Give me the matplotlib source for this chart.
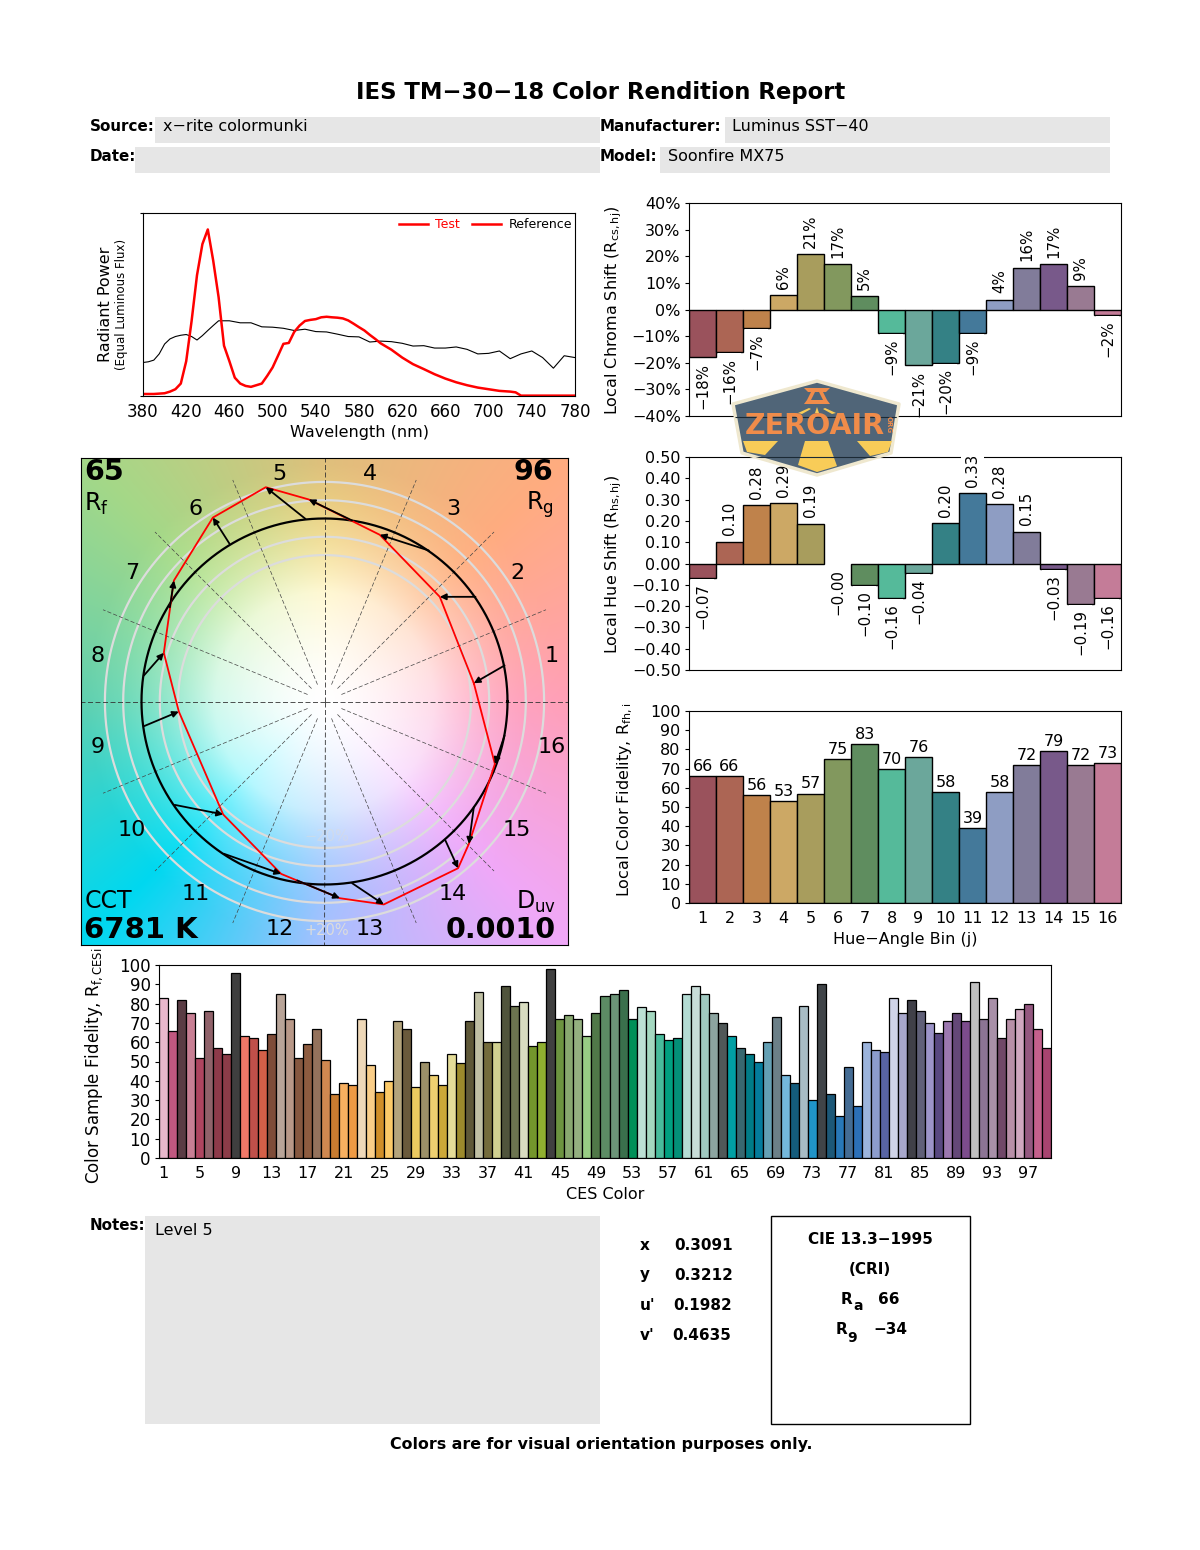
import numpy as np
import matplotlib
matplotlib.use("Agg")
import matplotlib.pyplot as plt
from matplotlib.lines import Line2D
from matplotlib.patches import Polygon, Rectangle

W, H = 1200, 1550

# spectrum
wl_test = [380, 390, 400, 405, 410, 415, 420, 425, 430, 435, 440, 445, 450, 455, 460, 465, 470, 475, 480, 485,
           490, 495, 500, 505, 510, 515, 520, 525, 530, 535, 540, 545, 550, 555, 560, 565, 570, 575, 580, 585,
           590, 595, 600, 610, 620, 630, 640, 650, 660, 670, 680, 690, 700, 710, 720, 725, 730, 780]
spd_test = [.011, .011, .015, .024, .037, .068, .19, .41, .66, .83, .91, .74, .54, .275, .19, .10, .068, .055, .05, .059,
            .068, .11, .156, .22, .285, .29, .35, .385, .41, .416, .42, .43, .433, .43, .428, .424, .413, .395, .376, .358,
            .334, .312, .288, .253, .21, .174, .147, .119, .095, .075, .059, .046, .037, .028, .024, .02, .002, .002]
wl_ref = [380, 385, 390, 395, 400, 405, 410, 415, 420, 425, 430, 435, 440, 445, 450, 460, 470, 480, 490, 500, 510, 520,
          530, 540, 550, 560, 570, 580, 590, 600, 610, 620, 630, 640, 650, 660, 670, 680, 690, 700, 710, 720, 730, 740,
          750, 760, 770, 780]
spd_ref = [.183, .187, .196, .23, .284, .312, .325, .332, .336, .325, .306, .33, .358, .385, .411, .411, .40, .40, .378,
           .376, .37, .358, .365, .352, .35, .338, .325, .323, .295, .30, .297, .288, .273, .275, .262, .262, .268, .255,
           .23, .233, .246, .204, .23, .246, .21, .152, .22, .21]
wl_ticks = list(range(380, 781, 40))

# hue bins
bins = list(range(1, 17))
bin_colors = ["#9A525C", "#AC6554", "#BF824B", "#CCA865", "#A89D5D", "#82985E", "#5F8D5F", "#55BA9A",
              "#6BA79B", "#348185", "#44799A", "#8E9DC3", "#817C9A", "#78598A", "#997A92", "#C47C98"]
chroma_shift = [-18, -16, -7, 5.5, 20.7, 17, 4.9, -8.7, -21, -20, -8.7, 3.7, 15.7, 17, 8.7, -1.9]
chroma_labels = ["\u221218%", "\u221216%", "\u22127%", "6%", "21%", "17%", "5%", "\u22129%",
                 "\u221221%", "\u221220%", "\u22129%", "4%", "16%", "17%", "9%", "\u22122%"]
hue_shift = [-.067, .103, .275, .285, .187, 0, -.10, -.16, -.043, .19, .33, .28, .15, -.025, -.19, -.16]
hue_labels = ["\u22120.07", "0.10", "0.28", "0.29", "0.19", "\u22120.00", "\u22120.10", "\u22120.16",
              "\u22120.04", "0.20", "0.33", "0.28", "0.15", "\u22120.03", "\u22120.19", "\u22120.16"]
fidelity = [66, 66, 56, 53, 57, 75, 83, 70, 76, 58, 39, 58, 72, 79, 72, 73]

# vector graphic, reference circle radius = 1
ref_x = [.984, .825, .570, .151, -.104, -.519, -.845, -.987, -.987, -.818, -.550, -.149, .151, .661, .816, .984]
ref_y = [.197, .572, .825, .989, .998, .862, .515, .142, -.135, -.565, -.832, -.978, -.993, -.760, -.577, -.186]
test_x = [.816, .630, .302, -.086, -.321, -.610, -.823, -.878, -.796, -.554, -.237, .084, .324, .730, .789, .931]
test_y = [.100, .572, .911, 1.104, 1.171, 1.005, .661, .266, -.055, -.617, -.942, -1.075, -1.109, -.911, -.778, -.341]
ring_radii = [0.8, 0.9, 1.1, 1.2]
hue_angles = [0, 45, 90, 135, 180, 225, 270, 315, 360]
hue_outer = ["#FFA0B8", "#FFAC80", "#DFC07C", "#A4D888", "#60D0B0", "#00D8F0", "#A8C0FF", "#F0A8F8", "#FFA0B8"]
hue_inner = ["#FFA8C8", "#FFC090", "#FFEE90", "#C8F0A0", "#90F0D0", "#40F0FF", "#90C8FF", "#F0B0FF", "#FFA8C8"]

# CES samples
ces_values = [83, 66, 82, 75, 52, 76, 57, 54, 96, 63, 62, 56, 64, 85, 72, 52, 59, 67, 51, 33,
              39, 38, 72, 48, 34, 40, 71, 67, 37, 50, 43, 38, 54, 49, 71, 86, 60, 60, 89, 79,
              81, 58, 60, 98, 72, 74, 72, 63, 75, 84, 85, 87, 72, 78, 76, 64, 61, 62, 85, 89,
              85, 75, 70, 63, 57, 54, 50, 60, 73, 43, 39, 79, 30, 90, 33, 22, 47, 27, 60, 56,
              55, 83, 75, 82, 76, 70, 65, 71, 75, 71, 91, 72, 83, 62, 72, 77, 80, 67, 57]
ces_colors = ["#E8B8CC", "#C05880", "#5A3C44", "#C87F94", "#AE4560", "#90626A", "#8E3A4A", "#8C3C48", "#3F3F3F", "#F07868",
              "#C0504A", "#D46048", "#7E4C38", "#B8A498", "#B89888", "#865840", "#8E5C40", "#94725C", "#D08850", "#C87C30",
              "#F8B060", "#EE9A44", "#EED8B8", "#FACE88", "#D08E28", "#FCCA68", "#B4A47C", "#6A5A3C", "#ECCA60", "#9C9068",
              "#EED070", "#CCA838", "#E4DC98", "#9C8A2C", "#5E5838", "#C0C0A4", "#746C3C", "#D0D090", "#50543C", "#6C7450",
              "#D8DCC0", "#74962C", "#90B030", "#404040", "#6C9440", "#88A870", "#94B080", "#98CC84", "#507848", "#5C8C64",
              "#6C9478", "#3A704C", "#009058", "#BCE0D4", "#A4D8C0", "#48BC9C", "#00A080", "#049078", "#B4DCD4", "#C8DCD8",
              "#A0C8C0", "#8CA4A0", "#505858", "#00A0A4", "#386870", "#007C88", "#047C9C", "#64A0B4", "#6C8088", "#74B8DC",
              "#145C7C", "#A8BCC4", "#2094C8", "#404448", "#1C5878", "#2878B8", "#446C94", "#2C70B8", "#9CB4DC", "#8C9CCC",
              "#5864A4", "#D0D4E8", "#A8A8CC", "#404048", "#606078", "#9C94C8", "#584880", "#9C78B0", "#644878", "#7C4C8C",
              "#C0C0C0", "#8C7494", "#A890A8", "#704868", "#B890A8", "#D0A8C0", "#945880", "#C4608C", "#A84470"]
ces_ticks = list(range(1, 98, 4))

fig = plt.figure(figsize=(W / 100, H / 100), dpi=100)


def px_axes(left, top, right, bottom, **kw):
    return fig.add_axes([left / W, 1 - bottom / H, (right - left) / W, (bottom - top) / H], **kw)


def set_ylabel_at(ax, text, xpx, ypx, left, right, top, bottom, size=11.5):
    ax.set_ylabel(text, fontsize=size)
    ax.yaxis.set_label_coords((xpx - left) / (right - left), (bottom - ypx) / (bottom - top))


# page level things go on a full size axes in pixels
page = fig.add_axes([0, 0, 1, 1], zorder=-1)
page.set_xlim(0, W)
page.set_ylim(H, 0)
page.axis("off")


def ptext(x, y, s, ha="left", bold=False, size=11.5, **kw):
    page.text(x, y, s, ha=ha, va="center", fontsize=size, fontweight="bold" if bold else "normal", **kw)


ptext(600.5, 92, "IES TM\u221230\u221218 Color Rendition Report", ha="center", bold=True, size=16.4)
for x0, y0, x1, y1 in [(155, 117, 600, 143), (135, 147, 600, 173), (725, 117, 1110, 143), (660, 147, 1110, 173),
                       (145, 1216, 600, 1424)]:
    page.add_patch(Rectangle((x0, y0), x1 - x0, y1 - y0, fc="#E6E6E6", ec="none"))
ptext(90, 126.5, "Source:", bold=True, size=10.9)
ptext(163, 126.5, "x\u2212rite colormunki")
ptext(90, 156.5, "Date:", bold=True, size=10.9)
ptext(600, 126.5, "Manufacturer:", bold=True, size=10.9)
ptext(732, 126.5, "Luminus SST\u221240")
ptext(600, 156.5, "Model:", bold=True, size=10.9)
ptext(668, 156.5, "Soonfire MX75")
ptext(90, 1226, "Notes:", bold=True, size=10.9)
ptext(155, 1230.5, "Level 5")

for lab, val, yy, xv in [("x", "0.3091", 1245, 674), ("y", "0.3212", 1275, 674), ("u'", "0.1982", 1305, 673),
                         ("v'", "0.4635", 1335, 672)]:
    ptext(640, yy, lab, bold=True, size=11)
    ptext(xv, yy, val, bold=True, size=11)
page.add_patch(Rectangle((771, 1216), 199, 208, fc="white", ec="black", lw=1))
ptext(870, 1240, "CIE 13.3\u22121995", ha="center", bold=True, size=11)
ptext(870, 1270, "(CRI)", ha="center", bold=True, size=11)
ptext(841, 1300, "R", bold=True, size=11)
ptext(853, 1306, "a", bold=True, size=10)
ptext(878, 1300, "66", bold=True, size=11)
ptext(836, 1330, "R", bold=True, size=11)
ptext(847, 1338, "9", bold=True, size=10)
ptext(873, 1330, "\u221234", bold=True, size=11)
ptext(601, 1444, "Colors are for visual orientation purposes only.", ha="center", bold=True, size=11.4)

# spectrum
ax = px_axes(143, 213, 575, 396)
ax.plot(wl_ref, spd_ref, color="black", lw=0.8)
ax.plot(wl_test, spd_test, color="red", lw=1.8)
ax.set_xlim(380, 780)
ax.set_ylim(0, 1)
ax.set_xticks(wl_ticks)
ax.set_yticks([0, 1])
ax.set_yticklabels([])
ax.tick_params(axis="x", length=0, labelsize=12, pad=5)
ax.tick_params(axis="y", length=2)
ax.set_xlabel("Wavelength (nm)", fontsize=11.5, labelpad=3)
page.text(106, 304, "Radiant Power", rotation=90, ha="center", va="center", fontsize=11.5)
page.text(122, 304, "(Equal Luminous Flux)", rotation=90, ha="center", va="center", fontsize=8.5)
handles = [Line2D([], [], color="red", lw=1.8), Line2D([], [], color="red", lw=1.8)]
ax.legend(handles, ["Test", "Reference"], ncol=2, frameon=False, fontsize=9, loc="upper right",
          labelcolor=["red", "black"], handlelength=2.3, handletextpad=0.6, columnspacing=1.0,
          borderaxespad=0, borderpad=0.2, bbox_to_anchor=(0.999, 0.985))


def bin_chart(top, bottom, values, labels, ylim, yticks, yticklabels, ylab):
    left, right = 689, 1121
    a = px_axes(left, top, right, bottom)
    bars = a.bar(bins, values, width=1, color=bin_colors, edgecolor="black", lw=1)
    for p, v in zip(bars, values):
        if v == 0:
            p.set_edgecolor("none")
    a.set_xlim(0.5, 16.5)
    a.set_ylim(*ylim)
    a.set_xticks([])
    a.set_yticks(yticks)
    a.set_yticklabels(yticklabels)
    a.tick_params(axis="y", labelsize=11.5, length=3, pad=3)
    a.spines["left"].set_zorder(4)
    a.spines["bottom"].set_zorder(4)
    set_ylabel_at(a, ylab, 624, (top + bottom) / 2 + 1, left, right, top, bottom)
    for b, v, s in zip(bins, values, labels):
        a.annotate(s, (b, v), xytext=(0, 4.5 if v > 0 else -4), textcoords="offset points", rotation=90,
                   ha="center", va="bottom" if v > 0 else "top", fontsize=10.8,
                   bbox=dict(fc="white", ec="none", pad=3), zorder=3)
    return a


yt = list(range(-40, 41, 10))
bin_chart(203, 416, chroma_shift, chroma_labels, (-40, 40), yt,
          [str(t).replace("-", "\u2212") + "%" for t in yt], r"Local Chroma Shift (R$_{\mathrm{cs,hj}}$)")
yt = [x / 100 for x in range(-50, 51, 10)]
bin_chart(457, 670, hue_shift, hue_labels, (-.5, .5), yt,
          [f"{t:.2f}".replace("-", "\u2212") for t in yt], r"Local Hue Shift (R$_{\mathrm{hs,hj}}$)")

# local fidelity
ax = px_axes(689, 711, 1121, 903)
ax.bar(bins, fidelity, width=1, color=bin_colors, edgecolor="black", lw=1)
ax.set_xlim(0.5, 16.5)
ax.set_ylim(0, 100)
ax.set_xticks(bins)
ax.set_yticks(range(0, 101, 10))
ax.tick_params(axis="x", length=0, labelsize=11.5, pad=6)
ax.tick_params(axis="y", length=3, labelsize=11.5, pad=3)
ax.set_xlabel("Hue\u2212Angle Bin (j)", fontsize=11.5, labelpad=4)
set_ylabel_at(ax, r"Local Color Fidelity, R$_{\mathrm{fh,i}}$", 635, 800, 689, 1121, 711, 903)
for b, v in zip(bins, fidelity):
    ax.annotate(str(v), (b, v), xytext=(0, 1.5), textcoords="offset points", ha="center", va="bottom", fontsize=11.5)

# color vector graphic
gfx = px_axes(81, 458, 568, 945)
lim = 243.5 / 183
yy, xx = np.mgrid[lim:-lim:488j, -lim:lim:488j]
rr = np.hypot(xx, yy)
ang = np.degrees(np.arctan2(yy, xx)) % 360
inner = np.array([matplotlib.colors.to_rgb(c) for c in hue_inner])
outer = np.array([matplotlib.colors.to_rgb(c) for c in hue_outer])
inner_img = np.dstack([np.interp(ang, hue_angles, inner[:, i]) for i in range(3)])
outer_img = np.dstack([np.interp(ang, hue_angles, outer[:, i]) for i in range(3)])
s1 = np.clip(rr / 1.1, 0, 1)[..., None] ** 1.5
s2 = np.clip((rr - 0.6) / 0.7, 0, 1)[..., None]
img = (1 - s1) + s1 * inner_img
img = img * (1 - s2) + outer_img * s2
gfx.imshow(img, extent=(-lim, lim, -lim, lim), aspect="equal", interpolation="bilinear")
t = np.linspace(0, 2 * np.pi, 361)
for r in ring_radii:
    gfx.plot(r * np.cos(t), r * np.sin(t), color="#DCDCDC", lw=1.6)
for a in np.deg2rad(np.arange(16) * 22.5):
    if np.isclose(np.sin(2 * a), 0):
        gfx.plot([0, lim * np.cos(a)], [0, lim * np.sin(a)], color="#333333", lw=0.6, ls=(0, (6, 3)))
    else:
        gfx.plot([0.1 * np.cos(a), 1.31 * np.cos(a)], [0.1 * np.sin(a), 1.31 * np.sin(a)], color="#444444", lw=0.5,
                 ls=(0, (6, 3)))
gfx.plot(np.cos(t), np.sin(t), color="black", lw=1.6)
gfx.plot(test_x + test_x[:1], test_y + test_y[:1], color="red", lw=1.3)
for x0, y0, x1, y1 in zip(ref_x, ref_y, test_x, test_y):
    gfx.annotate("", (x1, y1), (x0, y0), arrowprops=dict(arrowstyle="-|>", color="black", lw=1.3, mutation_scale=9,
                                                         shrinkA=0, shrinkB=0))
for b in bins:
    a = np.deg2rad((b - 0.5) * 22.5)
    gfx.text(1.265 * np.cos(a), 1.265 * np.sin(a), str(b), ha="center", va="center", fontsize=16)
gfx.set_xlim(-lim, lim)
gfx.set_ylim(-lim, lim)
gfx.set_xticks([])
gfx.set_yticks([])
gfx.text(0.007, 0.972, "65", transform=gfx.transAxes, fontsize=20.5, fontweight="bold", va="center")
gfx.text(0.007, 0.905, r"R$_{\mathrm{f}}$", transform=gfx.transAxes, fontsize=17, va="center")
gfx.text(0.97, 0.972, "96", transform=gfx.transAxes, fontsize=20.5, fontweight="bold", va="center", ha="right")
gfx.text(0.97, 0.905, r"R$_{\mathrm{g}}$", transform=gfx.transAxes, fontsize=17, va="center", ha="right")
gfx.text(0.007, 0.09, "CCT", transform=gfx.transAxes, fontsize=17, va="center")
gfx.text(0.007, 0.03, "6781 K", transform=gfx.transAxes, fontsize=21, fontweight="bold", va="center")
gfx.text(0.975, 0.088, r"D$_{\mathrm{uv}}$", transform=gfx.transAxes, fontsize=17, va="center", ha="right")
gfx.text(0.975, 0.03, "0.0010", transform=gfx.transAxes, fontsize=20.5, fontweight="bold", va="center", ha="right")
gfx.text(0.505, 0.03, "+20%", transform=gfx.transAxes, fontsize=10.5, color="#DCDCDC", va="center", ha="center")
gfx.text(0.505, 0.222, "\u221220%", transform=gfx.transAxes, fontsize=10.5, color="#DCDCDC", alpha=0.5, va="center",
         ha="center")

# CES chart
ax = px_axes(159, 965, 1051, 1158)
ax.bar(range(1, 100), ces_values, width=1, color=ces_colors, edgecolor="black", lw=0.9)
ax.set_xlim(0.5, 99.5)
ax.set_ylim(0, 100)
ax.set_xticks(ces_ticks)
ax.set_yticks(range(0, 101, 10))
ax.tick_params(axis="x", length=0, labelsize=11.5, pad=6)
ax.tick_params(axis="y", length=3, labelsize=12, pad=3)
ax.set_xlabel("CES Color", fontsize=11.5, labelpad=4)
set_ylabel_at(ax, r"Color Sample Fidelity, R$_{\mathrm{f,CESi}}$", 105, 1066, 159, 1051, 965, 1158, size=12)

# logo on top of everything
logo = fig.add_axes([0, 0, 1, 1], zorder=10)
logo.set_xlim(0, W)
logo.set_ylim(H, 0)
logo.axis("off")
badge = Polygon([(817, 381), (899, 404), (891, 453), (817, 475), (742, 453), (733, 404)], closed=True, fc="#506578",
                ec="#EFE8CF", lw=2.5, joinstyle="round")
logo.add_patch(badge)
for yl in (416.5, 457.2):
    ln, = logo.plot([733, 899], [yl, yl], color="#1B2A35", lw=0.8)
    ln.set_clip_path(badge)
for pts in ([(743, 441), (778, 441), (765, 455), (747, 452)],
            [(805, 441), (828, 441), (837, 466), (817, 472), (798, 465)],
            [(857, 441), (892, 441), (888, 452), (870, 456)],
            [(798, 413), (809, 408), (811, 409), (802, 414)],
            [(815, 413), (819, 413), (817, 407)],
            [(836, 413), (825, 408), (823, 409), (832, 414)]):
    logo.add_patch(Polygon(pts, closed=True, fc="#F8CC58", ec="none"))
for pts in ([(804, 388), (830, 388), (826, 392), (808, 392)],
            [(804, 404), (830, 404), (827, 400), (807, 400)],
            [(811, 392), (815, 392), (811, 400), (807, 400)],
            [(819, 392), (823, 392), (827, 400), (823, 400)]):
    logo.add_patch(Polygon(pts, closed=True, fc="#F08C4A", ec="none"))
logo.text(814.5, 426, "ZEROAIR", ha="center", va="center", fontsize=20.5, fontweight="bold", color="#F08C4A")
logo.text(889, 425, "ORG", ha="center", va="center", rotation=-90, fontsize=5, fontweight="bold", color="#F08C4A")

fig.savefig("out.png", dpi=100)
